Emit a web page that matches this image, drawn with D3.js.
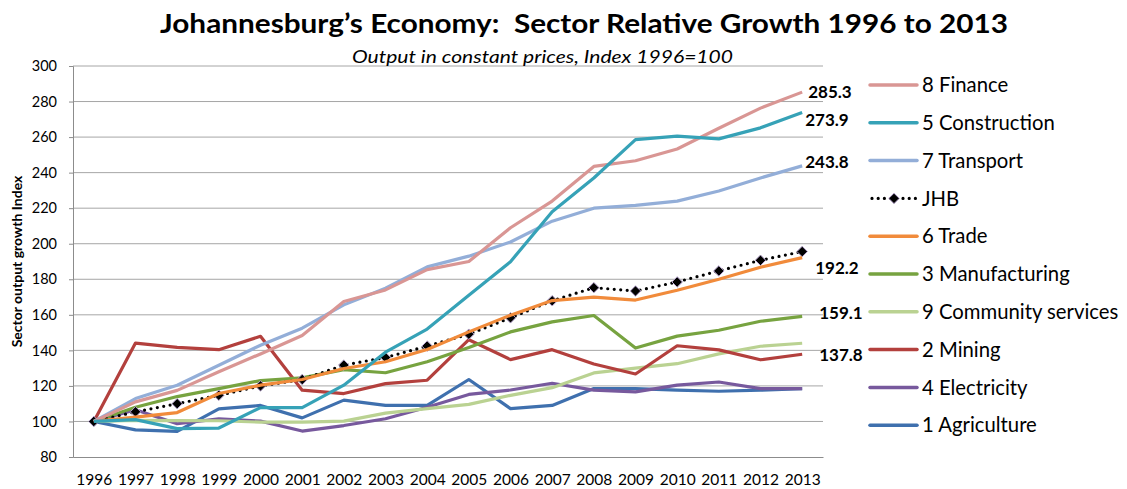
<!DOCTYPE html>
<meta charset="utf-8">
<head>
	<title>Johannesburg's Economy</title>
	<script type="text/javascript" src="https://cdn.jsdelivr.net/npm/d3@7/dist/d3.min.js"></script>
	<style>
		body { margin: 0; background: #fff; }
		svg text { font-family: Lato, "Open Sans", sans-serif; fill: #000; }
	</style>
</head>

<body>
	<div id="chart"></div>

<script>
	// chart values
	var years = [1996, 1997, 1998, 1999, 2000, 2001, 2002, 2003, 2004, 2005, 2006, 2007, 2008, 2009, 2010, 2011, 2012, 2013];
	var finance = [100, 111, 117.5, 128, 138, 148.4, 167.5, 174, 185.4, 190, 209, 224, 243.5, 246.7, 253.3, 265, 276.3, 285.3];
	var construction = [100, 101, 96, 96.3, 107.8, 107.8, 120.4, 139, 152, 171, 189.9, 218, 237, 258.6, 260.5, 259, 265.2, 273.9];
	var transport = [100, 112.9, 120.4, 131.6, 142.9, 152.5, 165.6, 175, 187, 193, 201, 212.7, 220, 221.6, 224, 229.7, 237, 243.8];
	var jhb = [100, 105.4, 110, 114.7, 120, 123.6, 131.7, 136, 142.4, 149.1, 158.3, 167.9, 175.3, 173.4, 178.5, 184.7, 190.7, 195.6];
	var trade = [100, 102.4, 105, 115.7, 120.4, 123.6, 129.8, 133.6, 140.5, 150.4, 159.8, 168, 170, 168.3, 173.8, 180, 186.8, 192.2];
	var manufacturing = [100, 108, 114, 118.5, 123, 124.5, 129.2, 127.4, 133.6, 141.6, 150.4, 156, 159.6, 141.3, 148, 151.3, 156.4, 159.1];
	var community = [100, 100.6, 100.5, 100.4, 99.6, 99.6, 100.2, 104.7, 107.2, 109.6, 114.7, 119, 127.3, 130, 132.5, 138, 142.3, 144];
	var mining = [100, 144.1, 141.7, 140.4, 147.9, 117.6, 115.7, 121.3, 123.2, 146, 134.8, 140.4, 132.3, 126.7, 142.6, 140.3, 134.7, 137.8];
	var electricity = [100, 106.6, 98.7, 101.5, 100.2, 94.6, 97.7, 101.5, 108, 115.2, 117.7, 121.5, 117.6, 116.6, 120.4, 122.2, 118.5, 118.5];
	var agriculture = [100, 95.3, 94.4, 107.1, 109, 102, 112, 109, 109, 123.6, 107.2, 109, 118.5, 118.5, 117.6, 117, 117.6, 118.5];

	var yTicks = [80, 100, 120, 140, 160, 180, 200, 220, 240, 260, 280, 300];

	// legend order (top to bottom)
	var series = [
		{name: "8 Finance", values: finance, color: "#D99694"},
		{name: "5 Construction", values: construction, color: "#36A2B7"},
		{name: "7 Transport", values: transport, color: "#93AED8"},
		{name: "JHB", values: jhb, color: "#000", dotted: true},
		{name: "6 Trade", values: trade, color: "#F18B3B"},
		{name: "3 Manufacturing", values: manufacturing, color: "#77A340"},
		{name: "9 Community services", values: community, color: "#BAD292"},
		{name: "2 Mining", values: mining, color: "#B3403D"},
		{name: "4 Electricity", values: electricity, color: "#77599D"},
		{name: "1 Agriculture", values: agriculture, color: "#3F70AE"}
	];
	// drawing order, back to front
	var drawOrder = ["1 Agriculture", "4 Electricity", "9 Community services", "2 Mining", "3 Manufacturing",
		"JHB", "6 Trade", "7 Transport", "8 Finance", "5 Construction"];

	// end labels: which series, and a small nudge so they don't collide
	var endLabels = [
		{text: "285.3", series: "8 Finance", dx: 6, dy: 0},
		{text: "273.9", series: "5 Construction", dx: 3, dy: 8},
		{text: "243.8", series: "7 Transport", dx: 3, dy: -4},
		{text: "192.2", series: "6 Trade", dx: 13, dy: 10},
		{text: "159.1", series: "3 Manufacturing", dx: 17, dy: -3},
		{text: "137.8", series: "2 Mining", dx: 17, dy: 1}
	];

	var width = 1127, height = 489;
	var plot = {left: 73, right: 823, top: 66, bottom: 457};

	var svg = d3.select("#chart").append("svg")
		.attr("width", width)
		.attr("height", height);

	var x = d3.scalePoint()
		.domain(years)
		.range([plot.left, plot.right])
		.padding(0.5);

	var y = d3.scaleLinear()
		.domain([80, 300])
		.range([plot.bottom, plot.top]);

	// gridlines
	svg.append("g")
		.selectAll("line")
		.data(yTicks.slice(1))
		.enter().append("line")
		.attr("x1", plot.left)
		.attr("x2", plot.right)
		.attr("y1", function(d) { return y(d); })
		.attr("y2", function(d) { return y(d); })
		.attr("stroke", "#A6A6A6")
		.attr("stroke-width", 1);

	// y axis
	var yAxis = svg.append("g")
		.attr("transform", "translate(" + plot.left + ",0)")
		.call(d3.axisLeft(y).tickValues(yTicks).tickSize(4).tickPadding(12));
	yAxis.select(".domain").attr("stroke", "#8C8C8C");
	yAxis.selectAll(".tick line").attr("stroke", "#8C8C8C");
	yAxis.selectAll("text").style("font-size", "14.5px").attr("fill", "#000");

	// x axis
	var xAxis = svg.append("g")
		.attr("transform", "translate(0," + plot.bottom + ")")
		.call(d3.axisBottom(x).tickSize(0).tickPadding(17).tickFormat(d3.format("d")));
	xAxis.select(".domain").attr("stroke", "#8C8C8C");
	xAxis.selectAll("text").style("font-size", "15.5px").attr("fill", "#000");

	// y axis title
	svg.append("text")
		.attr("transform", "translate(22," + ((plot.top + plot.bottom) / 2) + ") rotate(-90)")
		.attr("text-anchor", "middle")
		.style("font-size", "14px")
		.style("font-weight", "bold")
		.text("Sector output growth Index");

	// titles
	svg.append("text")
		.attr("x", 160)
		.attr("y", 33)
		.attr("textLength", 848)
		.attr("lengthAdjust", "spacingAndGlyphs")
		.style("font-size", "26px")
		.style("font-weight", "bold")
		.text("Johannesburg\u2019s Economy:  Sector Relative Growth 1996 to 2013")
		.attr("xml:space", "preserve");

	svg.append("text")
		.attr("x", 352)
		.attr("y", 63)
		.attr("textLength", 381)
		.attr("lengthAdjust", "spacingAndGlyphs")
		.style("font-size", "17.5px")
		.style("font-style", "italic")
		.text("Output in constant prices, Index 1996=100");

	var line = d3.line()
		.x(function(d, i) { return x(years[i]); })
		.y(function(d) { return y(d); });

	var byName = {};
	series.forEach(function(s) { byName[s.name] = s; });

	var lines = svg.append("g");
	drawOrder.forEach(function(name) {
		var s = byName[name];
		if (s.dotted) {
			lines.append("path")
				.attr("d", line(s.values))
				.attr("fill", "none")
				.attr("stroke", s.color)
				.attr("stroke-width", 3.2)
				.attr("stroke-linecap", "round")
				.attr("stroke-dasharray", "0 6.5");
			lines.selectAll(".marker")
				.data(s.values)
				.enter().append("path")
				.attr("class", "marker")
				.attr("transform", function(d, i) { return "translate(" + x(years[i]) + "," + y(d) + ")"; })
				.attr("d", d3.symbol().type(d3.symbolDiamond2).size(70))
				.attr("fill", "#000")
				.attr("stroke", "#B9A6D0")
				.attr("stroke-width", 1);
		} else {
			lines.append("path")
				.attr("d", line(s.values))
				.attr("fill", "none")
				.attr("stroke", s.color)
				.attr("stroke-width", 3.2)
				.attr("stroke-linejoin", "round");
		}
	});

	// end labels
	svg.append("g")
		.selectAll("text")
		.data(endLabels)
		.enter().append("text")
		.attr("x", function(d) { return x(years[years.length - 1]) + d.dx; })
		.attr("y", function(d) { var v = byName[d.series].values; return y(v[v.length - 1]) + d.dy; })
		.attr("dy", "0.35em")
		.style("font-size", "17px")
		.style("font-weight", "bold")
		.text(function(d) { return d.text; });

	// legend
	var legend = svg.append("g")
		.selectAll("g")
		.data(series)
		.enter().append("g")
		.attr("transform", function(d, i) { return "translate(870," + (85 + i * 37.8) + ")"; });

	legend.each(function(d) {
		var g = d3.select(this);
		if (d.dotted) {
			g.append("line")
				.attr("x1", 2).attr("x2", 46)
				.attr("stroke", "#000")
				.attr("stroke-width", 3.2)
				.attr("stroke-linecap", "round")
				.attr("stroke-dasharray", "0 6.2");
			g.append("path")
				.attr("transform", "translate(24,0)")
				.attr("d", d3.symbol().type(d3.symbolDiamond2).size(70))
				.attr("fill", "#000")
				.attr("stroke", "#B9A6D0")
				.attr("stroke-width", 1);
		} else {
			g.append("line")
				.attr("x1", 0).attr("x2", 47)
				.attr("stroke", d.color)
				.attr("stroke-width", 3.5)
				.attr("stroke-linecap", "round");
		}
	});

	legend.append("text")
		.attr("x", 52)
		.attr("dy", "0.35em")
		.style("font-size", "20.3px")
		.text(function(d) { return d.name; });
</script>
</body>
